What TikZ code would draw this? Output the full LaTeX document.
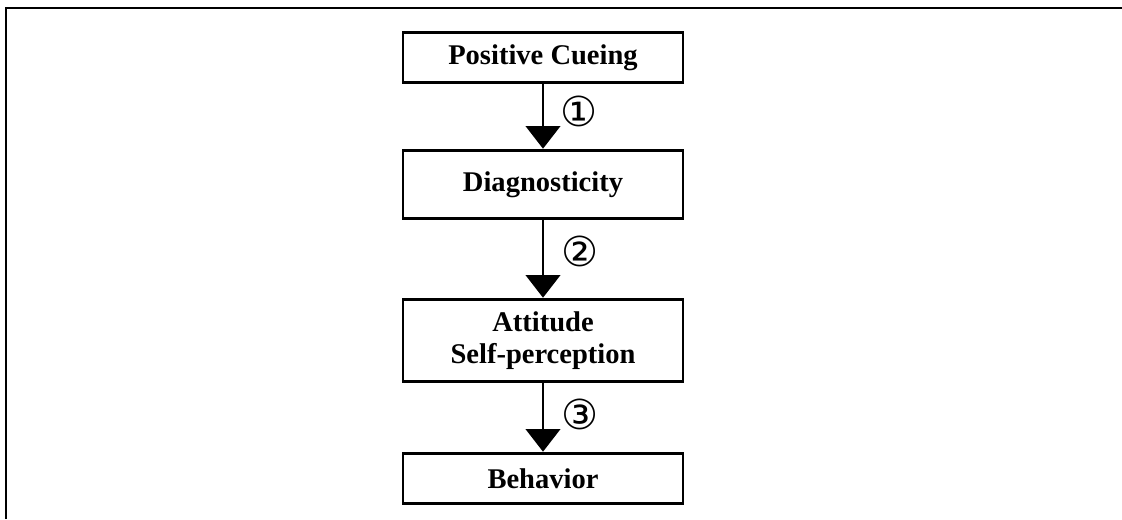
\documentclass[tikz,border=0pt]{standalone}
\usepackage{fontspec}
\setmainfont{Liberation Serif}
\newfontfamily\circfont{DejaVu Sans}
\usetikzlibrary{arrows.meta}
\tikzset{
  stage/.style={draw, line width=2.2pt, minimum width=210pt, inner sep=0pt, align=center,
    font=\fontsize{21.4}{24}\selectfont\bfseries},
  link/.style={->, line width=1.5pt},
  tag/.style={font=\circfont\fontsize{31}{31}\selectfont}
}
\begin{document}
\begin{tikzpicture}[x=0.75pt, y=-0.75pt, line join=miter, >={Triangle[length=17pt,width=26pt]}]
\useasboundingbox (0,0) rectangle (1122,519);
\draw[line width=1.6pt] (6,519)--(6,8)--(1122,8);
\path
(543,57.5) node[stage, minimum height=38pt] (cue) {Positive Cueing}
(543,184.5) node[stage, minimum height=51.5pt] (diag) {Diagnosticity}
(543,340.5) node[stage, minimum height=62pt] (att) {Attitude\\Self-perception}
(543,478.5) node[stage, minimum height=38pt] (beh) {Behavior}

(579,111) node[tag] (n1) {①}
(580,251) node[tag] (n2) {②}
(580,414) node[tag] (n3) {③};
\draw[link] (cue)--(diag);
\draw[link] (diag)--(att);
\draw[link] (att)--(beh);
\end{tikzpicture}
\end{document}
